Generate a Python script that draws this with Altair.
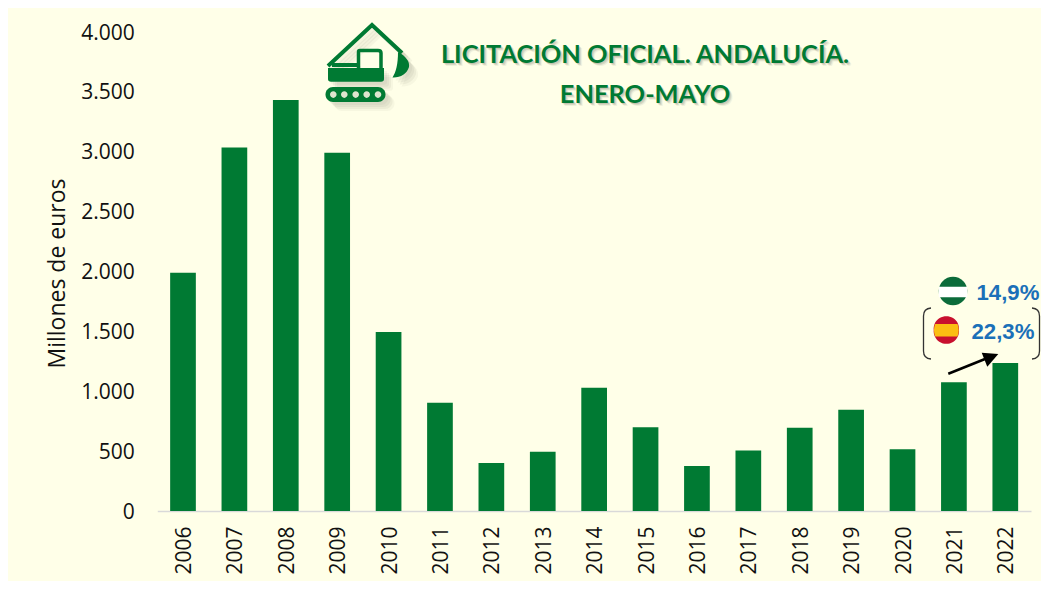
import altair as alt
import pandas as pd

years = [str(y) for y in range(2006, 2023)]
values = [1990, 3035, 3432, 2992, 1495, 905, 400, 495, 1030, 700, 375, 505, 695, 845, 515, 1075, 1235]
title_lines = ["LICITACIÓN OFICIAL. ANDALUCÍA.", "ENERO-MAYO"]
notes = ["14,9%", "22,3%"]

BG = "#FFFFE8"
GREEN = "#007A33"
OX, OY = 157.3, 32
one = pd.DataFrame({"a": [0]})


def shape(path, fill=None, stroke=None, sw=1.0, op=1.0, dx=0, dy=0):
    kw = dict(shape=path, size=4, opacity=op)
    if fill:
        kw.update(filled=True, fill=fill)
    else:
        kw.update(filled=False, fill="transparent")
    if stroke:
        kw.update(stroke=stroke, strokeWidth=sw)
    else:
        kw.update(strokeWidth=0)
    return alt.Chart(one).mark_point(**kw).encode(
        x=alt.value(-OX + dx), y=alt.value(-OY + dy))


def label(txt, x, y, size, color, font, weight="bold", op=1.0, align="center"):
    return alt.Chart(pd.DataFrame({"t": [txt]})).mark_text(
        font=font, fontSize=size, fontWeight=weight, color=color, opacity=op,
        align=align, baseline="middle").encode(
        text="t:N", x=alt.value(x - OX), y=alt.value(y - OY))


bars = alt.Chart(pd.DataFrame({"year": years, "value": values})).mark_bar(color=GREEN).encode(
    x=alt.X("year:N", sort=None, title=None,
            scale=alt.Scale(paddingInner=0.5, paddingOuter=0.25),
            axis=alt.Axis(labelAngle=270, labelFont="Open Sans", labelFontSize=21, labelColor="#111111",
                          labelPadding=15, ticks=False, domainColor="#D9D9D9", domainWidth=1.5,
                          labelAlign="right", labelBaseline="middle", labelOffset=2, grid=False)),
    y=alt.Y("value:Q", title="Millones de euros",
            scale=alt.Scale(domain=[0, 4000], nice=False),
            axis=alt.Axis(values=list(range(0, 4001, 500)), grid=False, domain=False, ticks=False,
                          labelFont="Open Sans", labelFontSize=21, labelColor="#111111", labelPadding=23,
                          labelOffset=1,
                          labelExpr="replace(format(datum.value, ','), ',', '.')",
                          titleFont="Open Sans", titleFontSize=23, titleFontWeight="normal",
                          titleColor="#111111", titleX=-88, titleY=241)),
)

boom = "M328 66 L372 25 L402 53 M332 65 L358 65"
bucket = "M398 52 C406 56 410 62 409 67 C407 74 400 78 392.5 77.5 C396 72 398 64 398 52 Z"
body = "M328 68 L384 68 L384 79 Q384 81.7 381 81.7 L331 81.7 Q328 81.7 328 79 Z"
cab = "M358.5 68 L358.5 52 Q358.5 50.5 360 50.5 L378 50.5 Q381 50.5 381 53 L381 68"
track = "M333 87 L378 87 A7.5 7.5 0 0 1 378 102 L333 102 A7.5 7.5 0 0 1 333 87 Z"
holes = "".join(
    f"M{cx - 3.3} 94.6 A3.3 3.3 0 1 0 {cx + 3.3} 94.6 A3.3 3.3 0 1 0 {cx - 3.3} 94.6 Z "
    for cx in [333.3, 344.3, 355.7, 366.7, 378])

layers = [bars]

for d, o in [(3, 0.06), (5, 0.07), (7, 0.07), (9, 0.05)]:
    layers += [
        shape(boom, stroke="#666655", sw=4, op=o, dx=d, dy=d),
        shape(bucket, fill="#666655", op=o, dx=d, dy=d),
        shape(body, fill="#666655", op=o, dx=d, dy=d),
        shape(track, fill="#666655", op=o, dx=d, dy=d),
    ]
layers += [
    shape(boom, stroke=GREEN, sw=4),
    shape(cab, stroke=GREEN, sw=3.5),
    shape(bucket, fill=GREEN),
    shape(body, fill=GREEN),
    shape(track, fill=GREEN),
    shape(holes, fill="#DDE5CF"),
]

for (t, y) in zip(title_lines, [55, 95]):
    for d, o in [(1, 0.15), (2, 0.15), (3, 0.08)]:
        layers.append(label(t, 645 + d, y + d, 25.4, "#555544", "Lato", op=o))
    layers.append(label(t, 645, y, 25.4, GREEN, "Lato"))

# flag of Andalucia
layers += [
    shape("M938.7 291 A14.3 14.3 0 1 1 967.3 291 A14.3 14.3 0 1 1 938.7 291 Z", fill="#0B6B3A"),
    shape("M938.9 286.7 L967.1 286.7 Q967.6 291 967.1 297.3 L938.9 297.3 Q938.4 291 938.9 286.7 Z", fill="#FFFFFF"),
    # flag of Spain
    shape("M933.7 330 A12.7 12.7 0 1 1 959 330 A12.7 12.7 0 1 1 933.7 330 Z", fill="#C8102E"),
    shape("M935.2 323.9 L957.5 323.9 Q960 330 957.5 336.6 L935.2 336.6 Q932.7 330 935.2 323.9 Z", fill="#FBBE12"),
    # brackets
    shape("M931 308 Q923.5 308.5 923.5 316 L923.5 351 Q923.5 358.5 931 359", stroke="#333333", sw=1.3),
    shape("M1032 308 Q1039.5 308.5 1039.5 316 L1039.5 351 Q1039.5 358.5 1032 359", stroke="#333333", sw=1.3),
    # arrow
    shape("M948.3 373.7 L985 359", stroke="#000000", sw=2.6),
    shape("M998.3 354 L981.7 352.7 L987.3 366.7 Z", fill="#000000"),
    label(notes[0], 976.5, 293, 22.2, "#1B70B8", "Liberation Sans", align="left"),
    label(notes[1], 971.5, 332, 22.2, "#1B70B8", "Liberation Sans", align="left"),
]

chart = alt.layer(*layers).properties(
    width=873.7, height=479, background=BG,
    padding={"left": 149.3, "top": 24, "right": 10, "bottom": 70},
    autosize=alt.AutoSizeParams(type="none"),
).configure_view(stroke=None)

chart.save("out.html", embed_options={"renderer": "svg", "actions": False})
